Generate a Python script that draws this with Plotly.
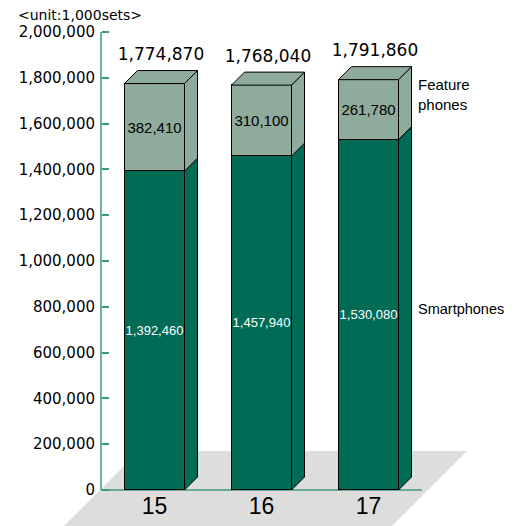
import plotly.graph_objects as go

# ---- data ----
years = ["15", "16", "17"]
smartphones = [1392460, 1457940, 1530080]
feature_phones = [382410, 310100, 261780]
totals = [1774870, 1768040, 1791860]
y_ticks = [0, 200000, 400000, 600000, 800000, 1000000, 1200000, 1400000, 1600000, 1800000, 2000000]
unit_label = "&lt;unit:1,000sets&gt;"
series_names = ["Smartphones", "Feature<br>phones"]

# ---- layout geometry (pixels) ----
W, H = 514, 526
AXIS_PX = 101          # y-axis x pixel
BASE_PX = 490          # y=0 pixel
TOP_PX = 32            # y=2,000,000 pixel
YMAX = 2000000
SPACING_PX = 107       # distance between bar centers
BAR_W_PX = 60
DEPTH_PX = 13

k = (BASE_PX - TOP_PX) / YMAX           # px per unit (y)
ux = 1.0 / SPACING_PX                   # x units per px
y_range = [-(H - BASE_PX) / k, YMAX + TOP_PX / k]
x0 = -0.5
x_range = [x0 - AXIS_PX * ux, x0 + (W - AXIS_PX) * ux]

bw = BAR_W_PX * ux
dx = DEPTH_PX * ux
dy = DEPTH_PX / k

C_SMART = "#006c55"
C_FEAT = "#8fab9c"
C_AXIS = "#3f9683"
C_FLOOR = "#dcdddc"
FONT = "Liberation Sans, Arial, sans-serif"
WIDE = "DejaVu Sans, Verdana, sans-serif"

xs = list(range(len(years)))

fig = go.Figure()

# front faces
fig.add_trace(go.Bar(
    x=xs, y=smartphones, width=bw, marker=dict(color=C_SMART, line=dict(color="black", width=1)),
    texttemplate="%{y:,}", textposition="inside", insidetextanchor="middle", constraintext="none",
    textfont=dict(color="white", size=13, family=FONT), textangle=0, showlegend=False, hoverinfo="skip"))
fig.add_trace(go.Bar(
    x=xs, y=feature_phones, width=bw, marker=dict(color=C_FEAT, line=dict(color="black", width=1)),
    texttemplate="%{y:,}", textposition="inside", insidetextanchor="middle", constraintext="none",
    textfont=dict(color="black", size=15, family=FONT), textangle=0, showlegend=False, hoverinfo="skip"))


def side_poly(bottoms, tops):
    px, py = [], []
    for i, (b, t) in enumerate(zip(bottoms, tops)):
        xr = xs[i] + bw / 2
        px += [xr, xr + dx, xr + dx, xr, xr, None]
        py += [b, b + dy, t + dy, t, b, None]
    return px, py


sx, sy = side_poly([0] * len(xs), smartphones)
fig.add_trace(go.Scatter(x=sx, y=sy, mode="lines", fill="toself", fillcolor=C_SMART,
                         line=dict(color="black", width=1), showlegend=False, hoverinfo="skip"))
fx, fy = side_poly(smartphones, [s + f for s, f in zip(smartphones, feature_phones)])
fig.add_trace(go.Scatter(x=fx, y=fy, mode="lines", fill="toself", fillcolor=C_FEAT,
                         line=dict(color="black", width=1), showlegend=False, hoverinfo="skip"))

# top faces
tx, ty = [], []
for i, (s, f) in enumerate(zip(smartphones, feature_phones)):
    t = s + f
    xl, xr = xs[i] - bw / 2, xs[i] + bw / 2
    tx += [xl, xl + dx, xr + dx, xr, xl, None]
    ty += [t, t + dy, t + dy, t, t, None]
fig.add_trace(go.Scatter(x=tx, y=ty, mode="lines", fill="toself", fillcolor=C_FEAT,
                         line=dict(color="black", width=1), showlegend=False, hoverinfo="skip"))

# total labels
fig.add_trace(go.Scatter(
    x=[x + dx / 2 for x in xs], y=[t + dy + 14.5 / k for t in totals], mode="text",
    text=[f"{t:,}" for t in totals], textposition="middle center",
    textfont=dict(size=17, color="black", family=WIDE), showlegend=False, hoverinfo="skip"))

# category labels
fig.add_trace(go.Scatter(
    x=xs, y=[-18 / k] * len(xs), mode="text", text=years, textposition="middle center",
    textfont=dict(size=23, color="black", family=FONT), showlegend=False, hoverinfo="skip"))

# floor and axis lines
floor_top = 39 / k
floor_bot = y_range[0]
fl_left_top = (139 - AXIS_PX) * ux + x0
fl_right_top = (467 - AXIS_PX) * ux + x0
slant = (floor_top - floor_bot) * k * ux
shapes = [
    dict(type="path", xref="x", yref="y", layer="below", line=dict(width=0), fillcolor=C_FLOOR,
         path=f"M {fl_left_top},{floor_top} L {fl_right_top},{floor_top} "
              f"L {fl_right_top - slant},{floor_bot} L {fl_left_top - slant},{floor_bot} Z"),
    dict(type="line", xref="x", yref="y", layer="below", x0=x0, x1=xs[-1] + 0.5, y0=0, y1=0,
         line=dict(color=C_AXIS, width=1.5)),
    dict(type="line", xref="x", yref="y", layer="below", x0=x0, x1=x0, y0=0, y1=YMAX,
         line=dict(color=C_AXIS, width=1.5)),
]

annotations = [
    dict(text=unit_label, xref="paper", yref="paper", x=16 / W, y=1 - 15 / H, xanchor="left",
         yanchor="middle", showarrow=False, font=dict(size=14, color="black", family=WIDE)),
    dict(text=series_names[1], xref="paper", yref="paper", x=416 / W, y=1 - 95 / H, xanchor="left",
         yanchor="middle", align="left", showarrow=False, font=dict(size=15, color="black", family=FONT)),
    dict(text=series_names[0], xref="paper", yref="paper", x=416 / W, y=1 - 309 / H, xanchor="left",
         yanchor="middle", align="left", showarrow=False, font=dict(size=14.5, color="black", family=FONT)),
]

fig.update_layout(
    width=W, height=H, margin=dict(l=0, r=0, t=0, b=0),
    paper_bgcolor="white", plot_bgcolor="white",
    barmode="stack", bargap=0,
    shapes=shapes, annotations=annotations,
    xaxis=dict(range=x_range, visible=False, fixedrange=True),
    yaxis=dict(range=y_range, anchor="free", position=AXIS_PX / W, side="left",
               tickvals=y_ticks, tickformat=",d", ticks="inside", ticklen=7, ticklabelstandoff=6,
               tickcolor=C_AXIS, tickwidth=1.5, showgrid=False, zeroline=False, showline=False,
               tickfont=dict(size=15, color="black", family=WIDE), fixedrange=True),
)

fig.write_html("out.html")
